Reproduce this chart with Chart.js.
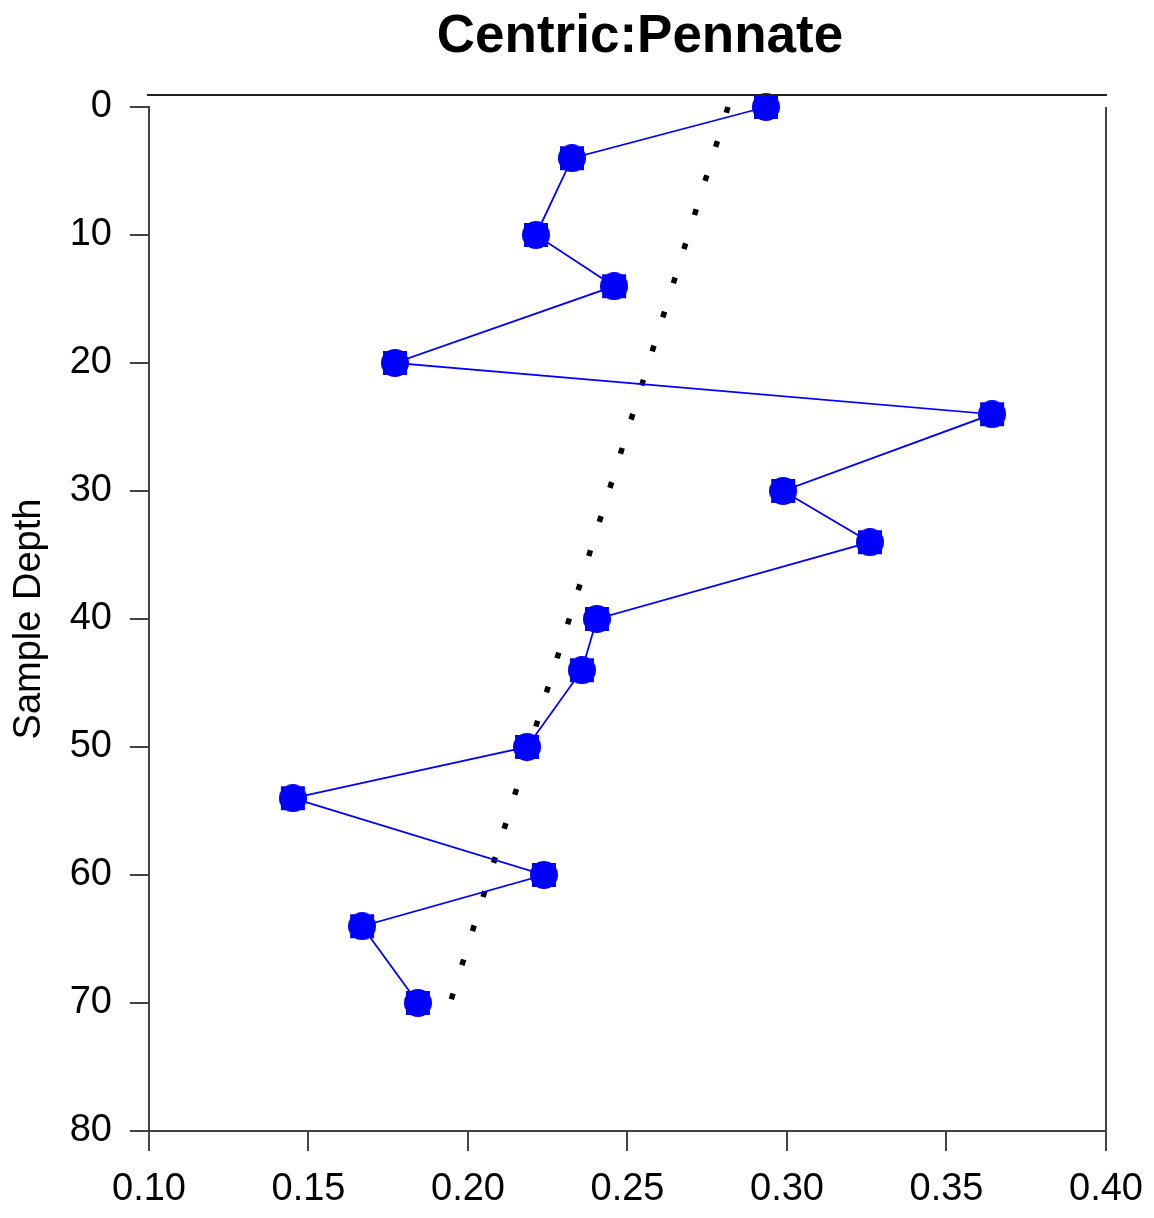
<!DOCTYPE html>
<html>
<head>
    <meta charset='utf-8'>
    <title>Centric:Pennate</title>
    <script src="https://cdn.jsdelivr.net/npm/chart.js@4.4.1/dist/chart.umd.min.js"></script>
    <style>
        body { margin: 0; background: #fff; }
        #wrap { width: 1154px; height: 1218px; }
    </style>
</head>
<body>
    <div id="wrap"><canvas id="grafico"></canvas></div>

<script>
    // datos
    var profundidad = [0, 4, 10, 14, 20, 24, 30, 34, 40, 44, 50, 54, 60, 64, 70]
    var razon = [0.2934, 0.2326, 0.2213, 0.2458, 0.1771, 0.3643, 0.2988, 0.3260, 0.2404, 0.2357, 0.2185, 0.1451, 0.2238, 0.1668, 0.1843]
    var tendenciaProf = [0, 70]
    var tendenciaRazon = [0.2815, 0.1944]
    var xTicks = [0.10, 0.15, 0.20, 0.25, 0.30, 0.35, 0.40]
    var yTicks = [0, 10, 20, 30, 40, 50, 60, 70, 80]

    var fuente = "'Liberation Sans', Arial, sans-serif"

    // marcador: cuadrado con circulo encima
    var marca = document.createElement('canvas')
    marca.width = 28
    marca.height = 28
    var mc = marca.getContext('2d')
    mc.fillStyle = 'rgb(0,0,255)'
    mc.fillRect(2, 2, 24, 24)
    mc.beginPath()
    mc.arc(14, 14, 14, 0, Math.PI * 2)
    mc.fill()

    function pares(xs, ys) {
        return xs.map(function (v, i) { return { x: v, y: ys[i] } })
    }

    var marco = {
        id: 'marco',
        afterDraw: function (chart) {
            var ctx = chart.ctx
            var a = chart.chartArea
            ctx.save()
            ctx.strokeStyle = '#222'
            ctx.lineWidth = 2
            ctx.beginPath()
            ctx.moveTo(a.left - 2, a.top - 12)
            ctx.lineTo(a.right + 1, a.top - 12)
            ctx.stroke()
            ctx.strokeStyle = '#444'
            ctx.beginPath()
            ctx.moveTo(a.right, a.top)
            ctx.lineTo(a.right, a.bottom)
            ctx.stroke()
            ctx.fillStyle = '#000'
            ctx.font = 'bold 53px ' + fuente
            ctx.textAlign = 'center'
            ctx.textBaseline = 'alphabetic'
            ctx.fillText('Centric:Pennate', 640, 52)
            ctx.restore()
        }
    }

    var ctx = document.getElementById('grafico').getContext('2d')
    var myChart = new Chart(ctx, {
        type: 'line',
        data: {
            datasets: [{
                label: 'Centric:Pennate',
                data: pares(razon, profundidad),
                borderColor: 'rgb(0,0,255)',
                borderWidth: 1.8,
                pointStyle: marca,
                pointRadius: 14,
                fill: false,
                clip: false,
                order: 1
            },
            {
                label: 'tendencia',
                data: pares(tendenciaRazon, tendenciaProf),
                borderColor: '#000',
                borderWidth: 5.5,
                borderDash: [6, 29.7],
                borderCapStyle: 'butt',
                pointRadius: 0,
                fill: false,
                clip: false,
                order: 2
            }]
        },
        options: {
            responsive: true,
            maintainAspectRatio: false,
            animation: false,
            layout: { padding: { top: 107, right: 48, left: 0, bottom: 0 } },
            plugins: {
                legend: { display: false },
                title: { display: false },
                tooltip: { enabled: false }
            },
            scales: {
                x: {
                    type: 'linear',
                    min: 0.10,
                    max: 0.40,
                    afterBuildTicks: function (s) { s.ticks = xTicks.map(function (v) { return { value: v } }) },
                    afterFit: function (s) { s.height = 87; s.paddingLeft = 0; s.paddingRight = 0 },
                    grid: { drawOnChartArea: false, drawTicks: true, tickLength: 20, color: '#444', lineWidth: 2 },
                    border: { display: true, color: '#444', width: 2 },
                    ticks: {
                        color: '#000',
                        padding: 16,
                        maxRotation: 0,
                        font: { family: fuente, size: 38 },
                        callback: function (v) { return v.toFixed(2) }
                    }
                },
                y: {
                    type: 'linear',
                    reverse: true,
                    min: 0,
                    max: 80,
                    afterBuildTicks: function (s) { s.ticks = yTicks.map(function (v) { return { value: v } }) },
                    afterFit: function (s) { s.width = 149; s.paddingTop = 0; s.paddingBottom = 0 },
                    grid: { drawOnChartArea: false, drawTicks: true, tickLength: 19, color: '#444', lineWidth: 2 },
                    border: { display: true, color: '#444', width: 2 },
                    title: {
                        display: true,
                        text: 'Sample Depth',
                        color: '#000',
                        padding: { top: 7, bottom: 0 },
                        font: { family: fuente, size: 38 }
                    },
                    ticks: {
                        color: '#000',
                        padding: 18,
                        font: { family: fuente, size: 38 }
                    }
                }
            }
        },
        plugins: [marco]
    })
</script>
</body>
</html>
